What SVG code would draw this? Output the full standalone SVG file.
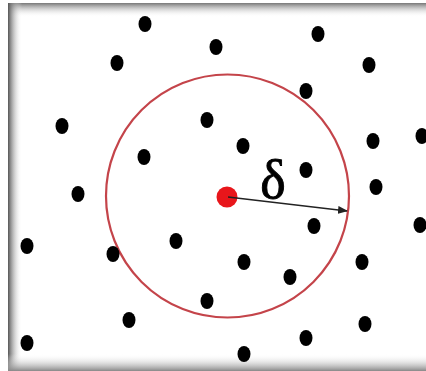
<svg xmlns="http://www.w3.org/2000/svg" width="426" height="371" viewBox="0 0 426 371">
<defs>
<style>
.dot{fill:#000}
.lbl{font-family:"Liberation Serif","DejaVu Serif",serif;font-size:54px;fill:#000;stroke:#000;stroke-width:0.9}
</style>
<linearGradient id="gl" x1="0" y1="0" x2="1" y2="0"><stop offset="0" stop-color="#555"/><stop offset="1" stop-color="#fff" stop-opacity="0"/></linearGradient>
<linearGradient id="gt" x1="0" y1="0" x2="0" y2="1"><stop offset="0" stop-color="#777"/><stop offset="1" stop-color="#fff" stop-opacity="0"/></linearGradient>
<linearGradient id="gb" x1="0" y1="1" x2="0" y2="0"><stop offset="0" stop-color="#888"/><stop offset="1" stop-color="#fff" stop-opacity="0"/></linearGradient>
<marker id="ah" markerWidth="10" markerHeight="8" refX="9" refY="4" orient="auto" markerUnits="userSpaceOnUse"><path d="M0,0 L10,4 L0,8 Z" fill="#222"/></marker>
</defs>
<rect width="426" height="371" fill="#fff"/>
<g id="frame">
<rect x="8" y="3" width="418" height="14" fill="url(#gt)"/>
<rect x="8" y="3" width="14" height="368" fill="url(#gl)"/>
<rect x="8" y="354" width="418" height="17" fill="url(#gb)"/>
</g>
<g id="circle"><circle cx="227.5" cy="196" r="121.5" fill="none" stroke="#c4444a" stroke-width="2.2"/></g>
<g id="points">
<ellipse class="dot" cx="145" cy="24" rx="6.5" ry="8"/>
<ellipse class="dot" cx="216" cy="47" rx="6.5" ry="8"/>
<ellipse class="dot" cx="318" cy="34" rx="6.5" ry="8"/>
<ellipse class="dot" cx="117" cy="63" rx="6.5" ry="8"/>
<ellipse class="dot" cx="369" cy="65" rx="6.5" ry="8"/>
<ellipse class="dot" cx="306" cy="91" rx="6.5" ry="8"/>
<ellipse class="dot" cx="62" cy="126" rx="6.5" ry="8"/>
<ellipse class="dot" cx="207" cy="120" rx="6.5" ry="8"/>
<ellipse class="dot" cx="243" cy="146" rx="6.5" ry="8"/>
<ellipse class="dot" cx="144" cy="157" rx="6.5" ry="8"/>
<ellipse class="dot" cx="373" cy="141" rx="6.5" ry="8"/>
<ellipse class="dot" cx="422" cy="136" rx="6.5" ry="8"/>
<ellipse class="dot" cx="306" cy="170" rx="6.5" ry="8"/>
<ellipse class="dot" cx="78" cy="194" rx="6.5" ry="8"/>
<ellipse class="dot" cx="376" cy="187" rx="6.5" ry="8"/>
<ellipse class="dot" cx="314" cy="226" rx="6.5" ry="8"/>
<ellipse class="dot" cx="420" cy="225" rx="6.5" ry="8"/>
<ellipse class="dot" cx="27" cy="246" rx="6.5" ry="8"/>
<ellipse class="dot" cx="176" cy="241" rx="6.5" ry="8"/>
<ellipse class="dot" cx="113" cy="254" rx="6.5" ry="8"/>
<ellipse class="dot" cx="244" cy="262" rx="6.5" ry="8"/>
<ellipse class="dot" cx="290" cy="277" rx="6.5" ry="8"/>
<ellipse class="dot" cx="362" cy="262" rx="6.5" ry="8"/>
<ellipse class="dot" cx="207" cy="301" rx="6.5" ry="8"/>
<ellipse class="dot" cx="129" cy="320" rx="6.5" ry="8"/>
<ellipse class="dot" cx="365" cy="324" rx="6.5" ry="8"/>
<ellipse class="dot" cx="306" cy="338" rx="6.5" ry="8"/>
<ellipse class="dot" cx="27" cy="343" rx="6.5" ry="8"/>
<ellipse class="dot" cx="244" cy="354" rx="6.5" ry="8"/>
</g>
<g id="center"><circle cx="227" cy="197" r="10.5" fill="#e8161b"/></g>
<g id="connectors"><line x1="228" y1="197" x2="347" y2="211" stroke="#222" stroke-width="1.3" marker-end="url(#ah)"/></g>
<g id="label"><text class="lbl" x="273" y="198" text-anchor="middle">δ</text></g>
</svg>
